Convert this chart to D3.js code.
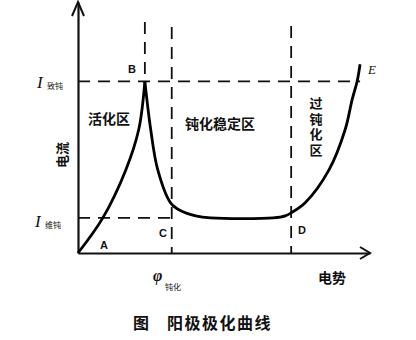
<!DOCTYPE html>
<html><head><meta charset="utf-8">
<script src="https://cdn.jsdelivr.net/npm/d3@7"></script>
<style>body{margin:0;background:#fff}</style>
</head><body><svg id="c" width="416" height="340"></svg>
<script>
// ---- data (potential, current) in arbitrary units ----
const activeBranch = [[0,0],[0.85,1.4],[1.64,3.32],[2.08,4.92],[2.29,6.84]];
const passiveBranch = [[2.29,6.84],[2.49,4.92],[2.73,3.32],[3.17,2.0],[3.52,1.68],[4.03,1.48],[4.54,1.40],[6.69,1.40],[7.10,1.48],[7.30,1.60],[7.78,2.0],[8.60,3.32],[9.15,4.92],[9.39,6.12],[9.56,6.84],[9.66,7.52]];
const markNames = ["B","C","D"];
const markPotentials = [2.29, 3.21, 7.30];
const markTops = [9.2, 9.0, 9.04];
const markBottoms = [6.84, 0, 0];
const currentLevels = [6.84, 1.40];
const currentLevelEnds = [9.66, 3.21];
const currentSubs = ["致钝","维钝"];
const potentialSub = "钝化";
const regionNames = ["活化区","钝化稳定区","过钝化区"];
const axisTitles = ["电流","电势"];
const captionParts = ["图","阳极极化曲线"];

const svg = d3.select("#c");
const x = d3.scaleLinear().domain([0,10]).range([78,370]);
const y = d3.scaleLinear().domain([0,10]).range([253,2]);
const cjk = "'Noto Sans CJK SC','Noto Sans',sans-serif";
const serif = "'Liberation Serif','DejaVu Serif',serif";

// dashed guide lines
const dash = "12,8";
currentLevels.forEach((c,i)=>{
  svg.append("line").attr("x1",x(0)).attr("x2",x(currentLevelEnds[i]))
    .attr("y1",y(c)).attr("y2",y(c))
    .attr("stroke","#111").attr("stroke-width",1.8).attr("stroke-dasharray",dash);
});
markPotentials.forEach((p,i)=>{
  svg.append("line").attr("x1",x(p)).attr("x2",x(p))
    .attr("y1",y(markTops[i])).attr("y2",y(markBottoms[i]))
    .attr("stroke","#111").attr("stroke-width",1.8).attr("stroke-dasharray",dash);
});

// axes
svg.append("g").attr("transform",`translate(0,${y(0)})`)
  .call(d3.axisBottom(x).tickValues([]).tickSizeOuter(0));
svg.append("g").attr("transform",`translate(${x(0)},0)`)
  .call(d3.axisLeft(y).tickValues([]).tickSizeOuter(0));
svg.selectAll(".domain").attr("stroke","#111").attr("stroke-width",2.2);
// arrowheads
svg.append("path").attr("d",`M${x(0)-6},${y(10)+14}L${x(0)},${y(10)}L${x(0)+6},${y(10)+14}`)
  .attr("fill","none").attr("stroke","#111").attr("stroke-width",2);
svg.append("path").attr("d",`M${x(10)-10},${y(0)-6}L${x(10)},${y(0)}L${x(10)-10},${y(0)+6}`)
  .attr("fill","none").attr("stroke","#111").attr("stroke-width",2);

// curve
const line = d3.line().x(d=>x(d[0])).y(d=>y(d[1])).curve(d3.curveCatmullRom.alpha(0.5));
[activeBranch, passiveBranch].forEach(b=>{
  svg.append("path").attr("d",line(b)).attr("fill","none")
    .attr("stroke","#000").attr("stroke-width",2.8).attr("stroke-linejoin","round");
});

// labels
function t(txt,px,py,opts={}){
  const e = svg.append("text").attr("x",px).attr("y",py).text(txt)
    .attr("font-family",opts.ff||cjk).attr("font-size",opts.fs||14)
    .attr("font-weight",opts.fw||"bold").attr("fill","#111");
  if(opts.fst) e.attr("font-style",opts.fst);
  if(opts.anchor) e.attr("text-anchor",opts.anchor);
  if(opts.db) e.attr("dominant-baseline",opts.db);
  return e;
}
const ptOpt = {ff:"'Liberation Sans',Arial,sans-serif",fs:11,anchor:"middle"};
t(markNames[0],132,73,ptOpt);
t("A",104,249,ptOpt);
t(markNames[1],163,237,ptOpt);
t(markNames[2],302,234,ptOpt);
t("E",368,74,{ff:serif,fs:13,fw:"normal",fst:"italic"});

// current level labels
t("I",37,y(currentLevels[0])+7,{ff:serif,fs:17,fw:"normal",fst:"italic"});
t(currentSubs[0],47,y(currentLevels[0])+8,{fs:8,fw:"normal"});
t("I",35,y(currentLevels[1])+9,{ff:serif,fs:17,fw:"normal",fst:"italic"});
t(currentSubs[1],45,y(currentLevels[1])+10,{fs:8,fw:"normal"});
// potential label
t("φ",153,281,{ff:serif,fs:16,fw:"bold",fst:"italic"});
t(potentialSub,165,290,{fs:8,fw:"normal"});

// axis titles
t(axisTitles[0],0,0,{fs:13,anchor:"middle",db:"central"})
  .attr("transform","translate(61,155) rotate(-90)");
t(axisTitles[1],318,277,{fs:14,db:"central"});

// regions
t(regionNames[0],88,118,{fs:14,db:"central"});
t(regionNames[1],185,123,{fs:14,db:"central"});
t(regionNames[2],316,97,{fs:13})
  .style("writing-mode","vertical-rl").style("text-orientation","upright")
  .attr("letter-spacing",2.5);

// caption
t(captionParts[0],133,322,{fs:16,db:"central"});
t(captionParts[1],167,322,{fs:16,db:"central"}).attr("letter-spacing",1.5);
</script></body></html>
